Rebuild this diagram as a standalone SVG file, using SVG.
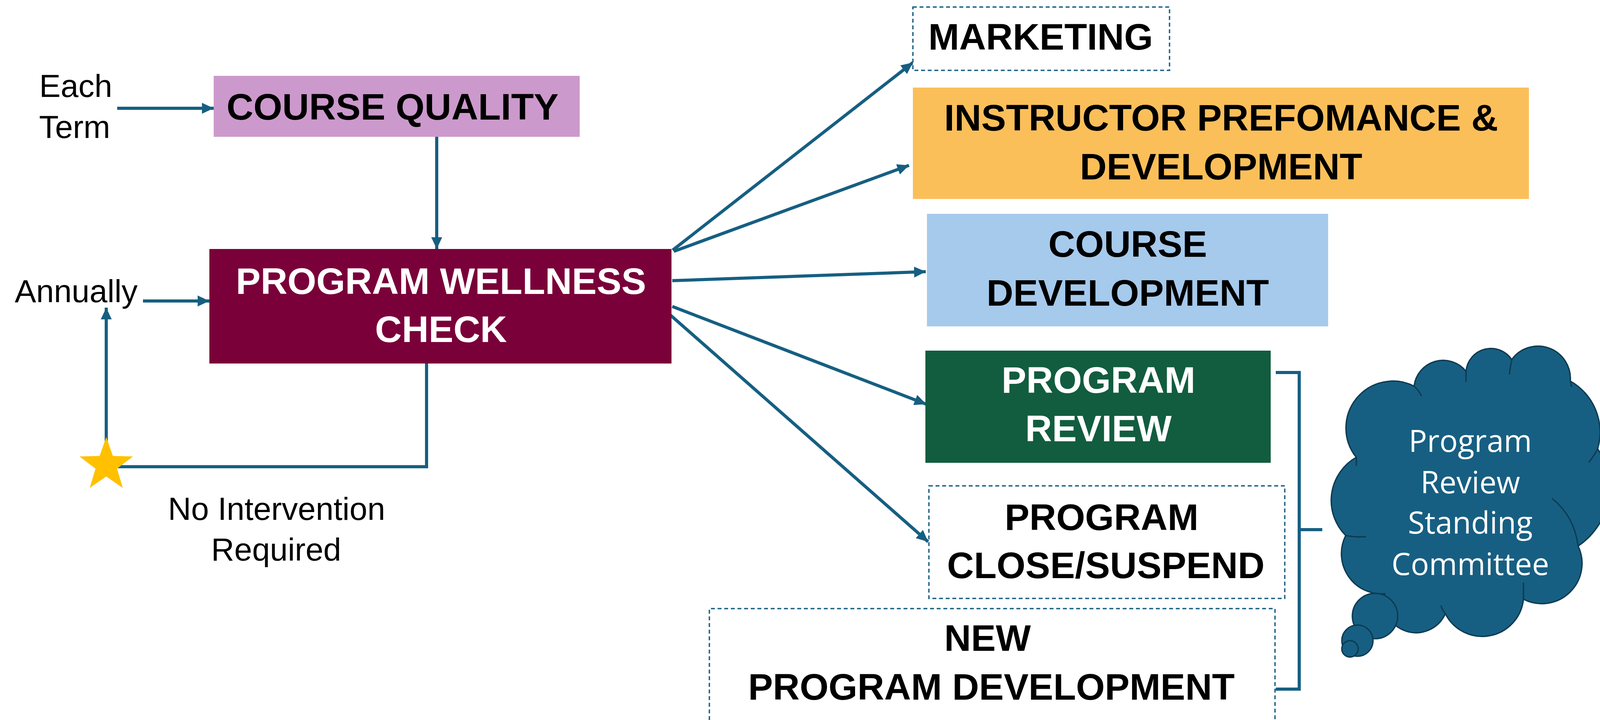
<svg xmlns="http://www.w3.org/2000/svg" width="4122" height="1842" viewBox="0 0 4122 1842">
<style>
.lbl{font-family:"Liberation Sans",Arial,sans-serif;font-weight:bold;font-size:95px;text-anchor:middle}
.side{font-family:"Liberation Sans",Arial,sans-serif;font-size:82px;text-anchor:middle;fill:#000}
.cl{font-family:"Open Sans","Noto Sans",sans-serif;font-size:78px;text-anchor:middle;fill:#fff}
.dash{fill:#fff;stroke:#1B6184;stroke-width:3.5;stroke-dasharray:10 7}
.con{fill:none;stroke:#165F82;stroke-width:8}
.tail{fill:none;stroke:#0D3B52;stroke-width:3.5}
</style>
<defs>
<marker id="ah" markerUnits="userSpaceOnUse" viewBox="0 0 30 28" refX="30" refY="14" markerWidth="30" markerHeight="28" orient="auto">
<path d="M0,0 L30,14 L0,28 z" fill="#165F82"/>
</marker>
</defs>
<rect width="4122" height="1842" fill="#fff"/>

<g id="connectors">
<line class="con" x1="300" y1="277" x2="547" y2="277" stroke-width="9" marker-end="url(#ah)"/>
<line class="con" x1="366" y1="770" x2="536" y2="770" stroke-width="10" marker-end="url(#ah)"/>
<line class="con" x1="1118" y1="350" x2="1118" y2="637" stroke-width="6" marker-end="url(#ah)"/>
<line class="con" x1="272" y1="1130" x2="272" y2="787" stroke-width="7" marker-end="url(#ah)"/>
<path class="con" d="M1092,930 V1194 H280" stroke-width="13"/>
<line class="con" x1="1722" y1="640" x2="2337" y2="160" marker-end="url(#ah)"/>
<line class="con" x1="1725" y1="643" x2="2327" y2="423" marker-end="url(#ah)"/>
<line class="con" x1="1721" y1="718" x2="2370" y2="695" marker-end="url(#ah)"/>
<line class="con" x1="1721" y1="784" x2="2371" y2="1034" marker-end="url(#ah)"/>
<line class="con" x1="1707" y1="798" x2="2376" y2="1386" marker-end="url(#ah)"/>
<path class="con" d="M3266,953 H3326 V1763 H3266 M3326,1355 H3385" stroke-width="14"/>
</g>

<g id="star">
<polygon points="272,1118 289,1166.5 340.5,1167.8 299.6,1199 314.3,1248.2 272,1219 229.7,1248.2 244.4,1199 203.5,1167.8 255,1166.5" fill="#FFC000"/>
</g>

<g id="label-each-term">
<text class="side" x="194" y="248">Each</text>
<text class="side" x="191" y="353">Term</text>
</g>
<g id="label-annually">
<text class="side" x="195" y="773">Annually</text>
</g>
<g id="label-no-intervention">
<text class="side" x="708" y="1330">No Intervention</text>
<text class="side" x="707" y="1434">Required</text>
</g>

<g id="course-quality">
<rect x="547" y="194" width="937" height="156" fill="#CC99CC"/>
<text class="lbl" x="1005" y="306" fill="#000">COURSE QUALITY</text>
</g>

<g id="program-wellness-check">
<rect x="536" y="637" width="1183" height="293" fill="#7A0039"/>
<text class="lbl" x="1129" y="752" fill="#fff">PROGRAM WELLNESS</text>
<text class="lbl" x="1129" y="875" fill="#fff">CHECK</text>
</g>

<g id="marketing">
<rect class="dash" x="2337" y="18" width="657" height="162"/>
<text class="lbl" x="2664" y="127" fill="#000">MARKETING</text>
</g>

<g id="instructor">
<rect x="2337" y="224" width="1577" height="285" fill="#FBBF5A"/>
<text class="lbl" x="3126" y="334" fill="#000">INSTRUCTOR PREFOMANCE &amp;</text>
<text class="lbl" x="3126" y="459" fill="#000">DEVELOPMENT</text>
</g>

<g id="course-development">
<rect x="2373" y="547" width="1027" height="288" fill="#A6CAEC"/>
<text class="lbl" x="2887" y="657" fill="#000">COURSE</text>
<text class="lbl" x="2887" y="782" fill="#000">DEVELOPMENT</text>
</g>

<g id="program-review">
<rect x="2369" y="897" width="884" height="287" fill="#125D3F"/>
<text class="lbl" x="2812" y="1005" fill="#fff">PROGRAM</text>
<text class="lbl" x="2812" y="1129" fill="#fff">REVIEW</text>
</g>

<g id="program-close">
<rect class="dash" x="2378" y="1243" width="911" height="288"/>
<text class="lbl" x="2820" y="1356" fill="#000">PROGRAM</text>
<text class="lbl" x="2831" y="1479" fill="#000">CLOSE/SUSPEND</text>
</g>

<g id="new-program">
<path class="dash" d="M1816,1842 V1557 H3264 V1842"/>
<text class="lbl" x="2528" y="1665" fill="#000">NEW</text>
<text class="lbl" x="2538" y="1790" fill="#000">PROGRAM DEVELOPMENT</text>
</g>

<g id="committee-cloud">
<path d="M3472,1170 A120,120 0 0 1 3620,988 A75,75 0 0 1 3753,950 A64,64 0 0 1 3870,920 A83,83 0 0 1 4020,975 A150,150 0 0 1 4090,1148 A180,180 0 0 1 4040,1397 A103,103 0 0 1 3900,1533 A106,106 0 0 1 3700,1570 A82,82 0 0 1 3545,1519 A103,103 0 0 1 3445,1370 A127,127 0 0 1 3472,1170 Z" fill="#175F82" stroke="#0D3B52" stroke-width="3.5"/>
<path class="tail" d="M3620,988 Q3632,998 3639,1013 M3753,950 L3753,977 M3870,920 Q3866,940 3864,958 M4020,975 Q4022,982 4023,990 M4090,1148 Q4080,1168 4067,1183 M3973,1275 Q4030,1320 4040,1397 M3900,1490 L3900,1533 M3700,1570 Q3692,1560 3689,1549 M3445,1370 Q3470,1375 3497,1373 M3472,1170 Q3473,1180 3472,1192"/>
<circle cx="3520" cy="1576" r="58" fill="#175F82" stroke="#0D3B52" stroke-width="3.5"/>
<circle cx="3475" cy="1639" r="40" fill="#175F82" stroke="#0D3B52" stroke-width="3.5"/>
<circle cx="3456" cy="1660" r="21" fill="#175F82" stroke="#0D3B52" stroke-width="3.5"/>
<text class="cl" x="3764" y="1156">Program</text>
<text class="cl" x="3764" y="1262">Review</text>
<text class="cl" x="3764" y="1365">Standing</text>
<text class="cl" x="3764" y="1471">Committee</text>
</g>
</svg>
